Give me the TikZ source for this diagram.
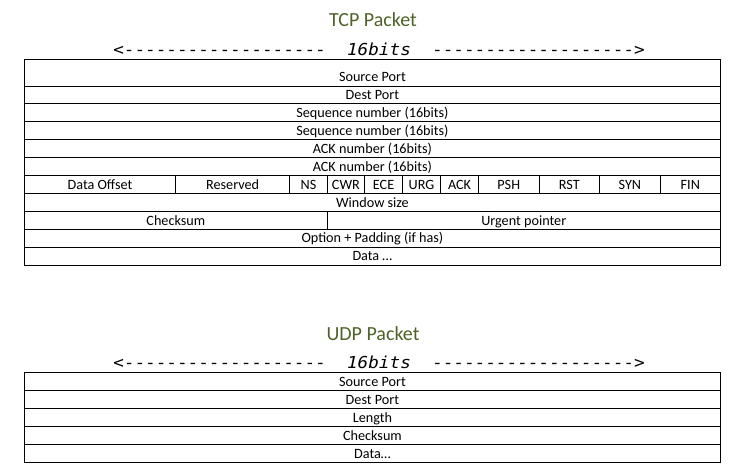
\documentclass[tikz,border=0pt]{standalone}
\usepackage{fontspec}
\setmainfont{Carlito}
\newfontfamily\bitsfont{DejaVu Sans Mono}[FakeStretch=1.07, Ligatures=TeXOff]
\usepackage{tikz}
\usetikzlibrary{positioning}
\definecolor{titlegreen}{RGB}{79,98,40}

\begin{document}
\begin{tikzpicture}[x=1pt,y=-1pt]

\tikzset{field/.style={
		draw,
		line width=0.9pt,
		minimum width=#1,
		minimum height=17.9pt,
		inner sep=0pt, outer sep=0pt,
		text height=10pt, text depth=0.5pt,
		anchor=north west,
		font=\fontsize{14.2}{16}\selectfont
	},
	field/.default=695.8pt,
	packet title/.style={anchor=base, text=titlegreen, font=\fontsize{20}{24}\selectfont},
	bits/.style={anchor=base, font=\bitsfont\fontsize{16.5}{18}\selectfont}
}
\useasboundingbox (0,0) rectangle (741,475);

% TCP
\node[packet title] (tcptitle) at (373,26.7) {TCP Packet};
\node[bits] (tcpbits) at (379,55) {<-------------------\ \ \textit{16bits}\ \ ------------------->};
\node[field, minimum height=26.7pt, text height=18.8pt] (tcpsrc) at (24.5,59.3) {Source Port};
\node[field, below=0pt of tcpsrc] (tcpdest) {Dest Port};
\node[field, below=0pt of tcpdest] (seqa) {Sequence number (16bits)};
\node[field, below=0pt of seqa] (seqb) {Sequence number (16bits)};
\node[field, below=0pt of seqb] (acka) {ACK number (16bits)};
\node[field, below=0pt of acka] (ackb) {ACK number (16bits)};
\node[field=151pt, below=0pt of ackb.south west, anchor=north west] (dataoff) {Data Offset};
\foreach \flag/\w/\prev in {Reserved/114.3/dataoff, NS/37.4/Reserved, CWR/37.5/NS,
		ECE/37.8/CWR, URG/38.1/ECE, ACK/37.9/URG, PSH/60.5/ACK, RST/60.5/PSH,
		SYN/60.8/RST, FIN/60/SYN}
	\node[field=\w pt, right=0pt of \prev] (\flag) {\flag};
\node[field, below=0pt of dataoff.south west, anchor=north west] (window) {Window size};
\node[field=302.7pt, below=0pt of window.south west, anchor=north west] (tcpcheck) {Checksum};
\node[field=393.1pt, right=0pt of tcpcheck] (urgent) {Urgent pointer};
\node[field, below=0pt of tcpcheck.south west, anchor=north west] (option) {Option + Padding (if has)};
\node[field, below=0pt of option] (tcpdata) {Data …};

% UDP
\node[packet title] (udptitle) at (373,340) {UDP Packet};
\node[bits] (udpbits) at (379,368.3) {<-------------------\ \ \textit{16bits}\ \ ------------------->};
\node[field] (udpsrc) at (24.5,372.7) {Source Port};
\node[field, below=0pt of udpsrc] (udpdest) {Dest Port};
\node[field, below=0pt of udpdest] (length) {Length};
\node[field, below=0pt of length] (udpcheck) {Checksum};
\node[field, below=0pt of udpcheck] (udpdata) {Data…};
\end{tikzpicture}
\end{document}
